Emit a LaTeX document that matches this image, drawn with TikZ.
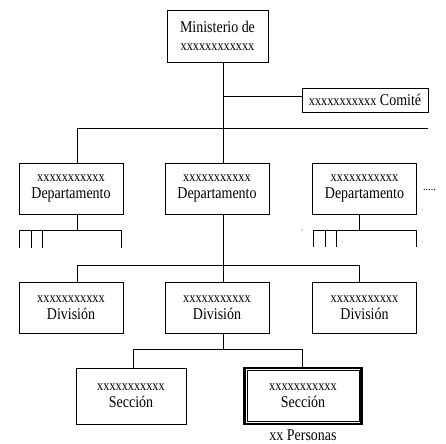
\documentclass[tikz,border=0pt]{standalone}
\usepackage{fontspec}
\setmainfont[FakeStretch=0.85]{Liberation Serif}
\newcommand{\xs}[1]{{\fontsize{14.5}{17}\selectfont #1}}
\begin{document}
\begin{tikzpicture}[x=1bp,y=-1bp,
  box/.style={draw,line width=0.9bp,inner sep=0pt,align=center,
    font=\fontsize{16.5}{17}\selectfont},
  ln/.style={line width=0.6bp},
  every node/.append style={text=black}]
\useasboundingbox (0,0) rectangle (446,444);
% boxes
\node[box,minimum width=101bp,minimum height=52bp] (min) at (217.5,36) {Ministerio de\\[1bp]\xs{xxxxxxxxxxxx}};
\node[box,minimum width=126bp,minimum height=24bp] (com) at (365,100) {\xs{xxxxxxxxxxx} Comité};
\foreach \n/\x in {d1/71,d2/217,d3/364.5}
  \node[box,minimum width=104bp,minimum height=51bp] (\n) at (\x,188.5) {\xs{xxxxxxxxxxx}\\Departamento};
\foreach \n/\x in {v1/71,v2/217,v3/364.5}
  \node[box,minimum width=104bp,minimum height=51bp] (\n) at (\x,307.5) {\xs{xxxxxxxxxxx}\\División};
\node[box,minimum width=110bp,minimum height=56bp] (s1) at (131,396) {\xs{xxxxxxxxxxx}\\Sección};
\node[box,line width=2.2bp,minimum width=117bp,minimum height=56bp] (s2) at (303,396) {\xs{xxxxxxxxxxx}\\Sección};
\draw[line width=0.6bp] ([shift={(3.6,3.6)}]s2.north west) rectangle ([shift={(-3.6,-3.6)}]s2.south east);
\node[font=\fontsize{16.5}{17}\selectfont,inner sep=0pt,anchor=north] (pers) at (303,430) {xx Personas};
\node[font=\fontsize{12}{12}\selectfont,inner sep=0pt] (dots) at (429.5,190) {.....};
% junction coordinates
\coordinate (jc) at (223,96);
\coordinate (tl) at (77,128);
\coordinate (tr) at (428,128);
\coordinate (b1) at (77,230);
\coordinate (b3) at (359,230);
\coordinate (dv) at (223,265);
\coordinate (dl) at (77,265);
\coordinate (dr) at (359,265);
\coordinate (sj) at (223,349);
\coordinate (sl) at (133,349);
\coordinate (sr) at (302,349);
% connectors
\draw[ln] (min.south -| jc) -- (d2.north -| jc);
\draw[ln] (jc) -- (com.west |- jc);
\draw[ln] (tr) -- (tl) -- (d1.north -| tl);
\draw[ln] (d2.south -| dv) -- (dv);
\draw[ln] (dl) -- (dr);
\draw[ln] (dl) -- (v1.north -| dl);
\draw[ln] (dv) -- (v2.north -| dv);
\draw[ln] (dr) -- (v3.north -| dr);
\draw[ln] (v2.south -| sj) -- (sj);
\draw[ln] (sl) -- (sr);
\draw[ln] (sl) -- (s1.north -| sl);
\draw[ln] (sr) -- (s2.north -| sr);
% department stubs
\draw[ln] (d1.south -| b1) -- (b1);
\draw[ln] (19,248) -- (19,230) -- (121,230) -- (121,248);
\draw[ln] (31,230) -- (31,248);
\draw[ln] (42,230) -- (42,248);
\draw[ln] (d3.south -| b3) -- (b3);
\draw[ln] (313,247) -- (313,230) -- (416,230) -- (416,247);
\draw[ln] (325,230) -- (325,247);
\draw[ln] (336,230) -- (336,247);
\fill (302,230) circle (0.5);
\end{tikzpicture}
\end{document}
